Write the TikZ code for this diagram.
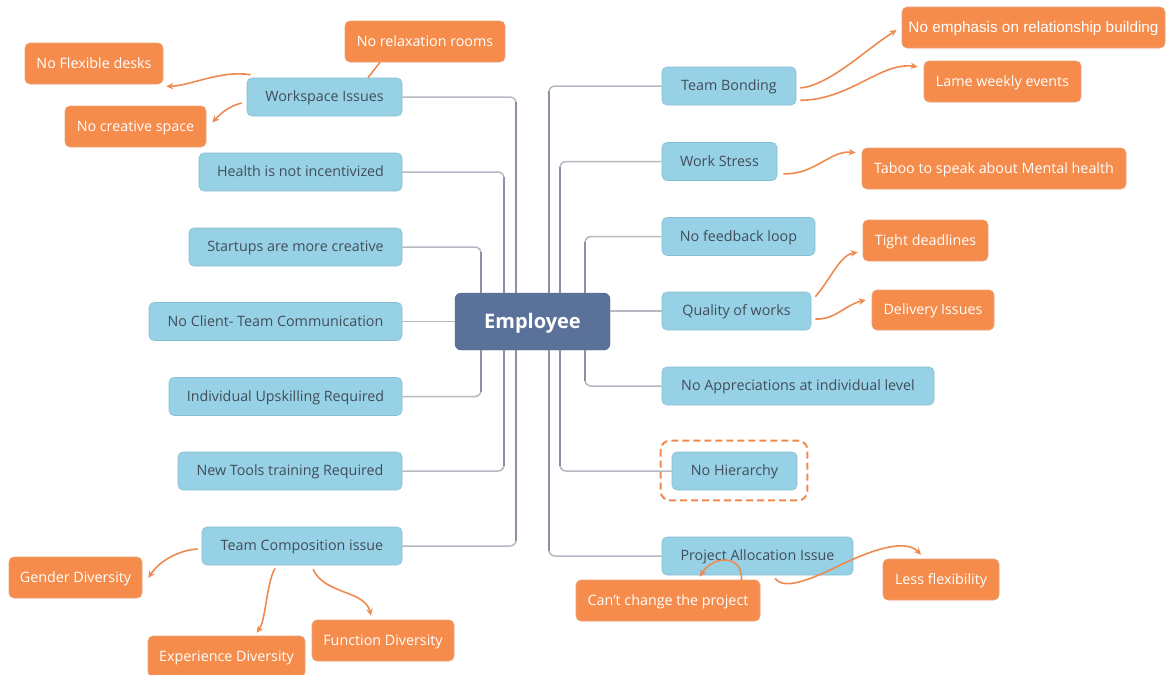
\documentclass[tikz,border=0pt]{standalone}
\usepackage{fontspec}
\setmainfont{Open Sans}
\newfontfamily\arialfont{Liberation Sans}
\usetikzlibrary{arrows.meta,calc}
\definecolor{bluefill}{HTML}{97D1E6}
\definecolor{blueline}{HTML}{86BDD3}
\definecolor{bluetext}{HTML}{414D59}
\definecolor{orfill}{HTML}{F58C4C}
\definecolor{orline}{HTML}{E8A27A}
\definecolor{orarrow}{HTML}{EE8A50}
\definecolor{empfill}{HTML}{5A7299}
\definecolor{empline}{HTML}{4E6489}
\definecolor{conncol}{HTML}{8A93A4}
\definecolor{connlight}{HTML}{B4B9C1}
\tikzset{
  bnode/.style={draw=blueline, fill=bluefill, rounded corners=5pt, text=bluetext,
    font=\fontsize{14.3}{17}\selectfont, minimum height=38pt, inner sep=0pt, line width=0.6pt,
    text height=10pt, text depth=1pt},
  onode/.style={draw=orline, fill=orfill, rounded corners=5pt, text=white,
    font=\fontsize{14.3}{17}\selectfont, minimum height=41pt, inner sep=0pt, line width=0.6pt,
    text height=10pt, text depth=1pt},
  enode/.style={draw=empline, fill=empfill, rounded corners=6pt, text=white,
    font=\fontsize{20}{24}\selectfont\bfseries, minimum width=155pt, minimum height=57pt, inner sep=0pt,
    text height=14pt, text depth=0.4pt},
  connh/.style={draw=connlight, line width=1.5pt, rounded corners=6pt},
  connv/.style={draw=conncol, line width=2.8pt},
  oarrow/.style={draw=orarrow, line width=1.6pt, -{Stealth[length=7pt,width=6.5pt]}},
  oline/.style={draw=orarrow, line width=1.6pt},
}
\begin{document}
\begin{tikzpicture}[x=1pt,y=-1pt]
\useasboundingbox (0,0) rectangle (1171,675);
% centre
\node[enode] (emp) at (532.5,321.5) {Employee};
% left blue
\node[bnode, minimum width=155pt] (ws) at (324.5,97) {Workspace Issues};
\node[bnode, minimum width=203pt] (health) at (300.5,172) {Health is not incentivized};
\node[bnode, minimum width=213pt] (start) at (295.5,247) {Startups are more creative};
\node[bnode, minimum width=253pt] (client) at (275.5,321.5) {No Client- Team Communication};
\node[bnode, minimum width=233pt] (indiv) at (285.5,396.5) {Individual Upskilling Required};
\node[bnode, minimum width=224pt] (tools) at (290,471) {New Tools training Required};
\node[bnode, minimum width=200pt] (comp) at (302,546) {Team Composition issue};
% right blue
\node[bnode, minimum width=134pt] (bond) at (729,86) {Team Bonding};
\node[bnode, minimum width=115pt] (stress) at (719.5,161.5) {Work Stress};
\node[bnode, minimum width=153pt] (feed) at (738.5,236.5) {No feedback loop};
\node[bnode, minimum width=149pt] (qual) at (736.5,311) {Quality of works};
\node[bnode, minimum width=272pt] (appr) at (798,386) {No Appreciations at individual level};
\node[bnode, minimum width=125pt] (hier) at (734.5,471) {No Hierarchy};
\node[bnode, minimum width=191pt] (alloc) at (757.5,556) {Project Allocation Issue};
\draw[orarrow, dashed, dash pattern=on 7pt off 4pt, line width=2pt, rounded corners=9pt, draw=orarrow]
  ($(hier.north west)+(-11,-11)$) rectangle ($(hier.south east)+(10,10)$);
% orange
\node[onode, minimum width=160pt] (relax) at (425,41.5) {No relaxation rooms};
\node[onode, minimum width=138pt] (flex) at (94,63.5) {No Flexible desks};
\node[onode, minimum width=141pt] (creat) at (135.5,126.5) {No creative space};
\node[onode, minimum width=263pt, font=\arialfont\fontsize{15.3}{18}\selectfont] (emph) at (1033.5,27.5) {No emphasis on relationship building};
\node[onode, minimum width=157pt] (lame) at (1002.5,81.5) {Lame weekly events};
\node[onode, minimum width=264pt] (taboo) at (994,168.5) {Taboo to speak about Mental health};
\node[onode, minimum width=125pt] (tight) at (925.5,240.5) {Tight deadlines};
\node[onode, minimum width=122pt, minimum height=40pt] (deliv) at (933,310) {Delivery Issues};
\node[onode, minimum width=116pt] (lessf) at (941,579.5) {Less flexibility};
\node[onode, minimum width=184pt] (cant) at (668,600.5) {Can't change the project};
\node[onode, minimum width=133pt] (gend) at (75.5,577.5) {Gender Diversity};
\node[onode, minimum width=157pt] (exper) at (226.5,656.5) {Experience Diversity};
\node[onode, minimum width=142pt] (func) at (383,640.5) {Function Diversity};
% grey connectors: thin horizontal part, then thick vertical trunk
\foreach \dx/\tgt/\anc/\sgn in {-16.5/ws/east/1, -28.5/health/east/1, -51.5/start/east/1,
    16.5/bond/west/1, 27.5/stress/west/1, 52.5/feed/west/1} {
  \draw[connh] ([xshift=\dx pt]emp.north) |- (\tgt.\anc);
  \draw[connv] ([xshift=\dx pt]emp.north) -- ($([xshift=\dx pt]emp.north |- \tgt.\anc)+(0,5)$);
}
\foreach \dx/\tgt/\anc in {-51.5/indiv/east, -28.5/tools/east, -16.5/comp/east,
    52.5/appr/west, 27.5/hier/west, 16.5/alloc/west} {
  \draw[connh] ([xshift=\dx pt]emp.south) |- (\tgt.\anc);
  \draw[connv] ([xshift=\dx pt]emp.south) -- ($([xshift=\dx pt]emp.south |- \tgt.\anc)+(0,-5)$);
}
\draw[connh] (emp.west) -- (client.east);
\draw[connh] (emp.east |- qual.west) -- (qual.west);
% orange connectors
\draw[oline] ($(ws.north)+(43.5,0)$) -- ($(relax.south)+(-45,0)$);
\draw[oarrow] ($(ws.north west)+(4,-3)$) .. controls (220,70) and (190,86) .. ($(flex.south east)+(3,2)$);
\draw[oarrow] ($(ws.west)+(-5,6)$) .. controls (230,106) and (222,112) .. ($(creat.east)+(6,-4)$);
\draw[oarrow] ($(bond.east)+(4,2)$) .. controls (830,85) and (865,50) .. ($(emph.west)+(-5,2.5)$);
\draw[oarrow] ($(bond.south east)+(4,-5)$) .. controls (850,100) and (880,62) .. ($(lame.north west)+(-6,6)$);
\draw[oarrow] ($(stress.south east)+(6,-7)$) .. controls (815,175) and (830,150) .. ($(taboo.north west)+(-6,5)$);
\draw[oarrow] ($(qual.north east)+(4,5)$) .. controls (830,280) and (840,255) .. ($(tight.south west)+(-5,-9)$);
\draw[oarrow] ($(qual.east)+(4,8)$) .. controls (835,320) and (845,305) .. ($(deliv.west)+(-6,-10)$);
\draw[oarrow] ($(alloc.south)+(-16,5)$) .. controls (743,553) and (712,556) .. ($(cant.north)+(32,-3)$);
\draw[oarrow] ($(alloc.south)+(17.5,3)$) .. controls (782,588) and (800,584) .. (830,570) .. controls (870,550) and (905,538) .. ($(lessf.north)+(-20,-4)$);
\draw[oarrow] ($(comp.west)+(-4,3)$) .. controls (180,550) and (160,560) .. ($(gend.east)+(6,0.5)$);
\draw[oarrow] ($(comp.south)+(-27,3)$) .. controls (266,585) and (266,620) .. ($(exper.north)+(30,-3)$);
\draw[oarrow] ($(comp.south)+(11,4)$) .. controls (325,595) and (365,590) .. ($(func.north)+(-12,-4)$);
\end{tikzpicture}
\end{document}
